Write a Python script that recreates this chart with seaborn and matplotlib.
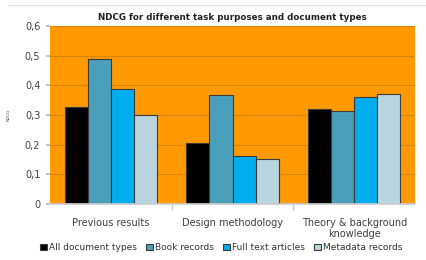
import matplotlib
matplotlib.use("Agg")
import matplotlib.pyplot as plt
import seaborn as sns
import pandas as pd

categories = ['Previous results', 'Design methodology', 'Theory & background\nknowledge']
doc_types = ['All document types', 'Book records', 'Full text articles', 'Metadata records']
all_docs = [0.327, 0.206, 0.320]
book = [0.489, 0.367, 0.313]
full_text = [0.388, 0.162, 0.360]
metadata = [0.300, 0.152, 0.371]
yticks = [0, 0.1, 0.2, 0.3, 0.4, 0.5, 0.6]
ytick_labels = ['0', '0,1', '0,2', '0,3', '0,4', '0,5', '0,6']

colors = ['#000000', '#4a9fba', '#00aeef', '#b8d4df']

rows = []
for name, vals in zip(doc_types, [all_docs, book, full_text, metadata]):
    for cat, v in zip(categories, vals):
        rows.append({'purpose': cat, 'type': name, 'ndcg': v})
df = pd.DataFrame(rows)

sns.set_theme(style="white")
plt.rcParams['font.family'] = ['DejaVu Sans']

fig = plt.figure(figsize=(4.26, 2.6), dpi=100)
ax = fig.add_axes([50 / 426, 56 / 260, 365 / 426, 178 / 260])
ax.set_facecolor('#ff9900')
ax.set_axisbelow(True)

sns.barplot(data=df, x='purpose', y='ndcg', hue='type', palette=colors,
            saturation=1, width=0.76, edgecolor='#3a3a3a', linewidth=0.8, ax=ax)

ax.set_ylim(0, 0.6)
ax.set_yticks(yticks)
ax.set_yticklabels(ytick_labels, fontsize=7, color='#404040')
ax.yaxis.grid(True, color='#d4860c', linewidth=0.8)
ax.tick_params(axis='x', labelsize=7, colors='#404040', length=0, pad=10)
ax.tick_params(axis='y', length=3, color='#bbbbbb', left=True, pad=4)
ax.set_xlabel('')
ax.set_ylabel('NDCG', fontsize=3, color='#404040', labelpad=10)
for s in ['top', 'right']:
    ax.spines[s].set_visible(False)
ax.spines['left'].set_visible(False)
ax.spines['bottom'].set_color('#cccccc')
ax.set_xticks([0.5, 1.5], minor=True)
ax.tick_params(axis='x', which='minor', length=4, color='#cccccc', bottom=True)
ax.set_xlim(-0.5, 2.5)

ax.set_title('NDCG for different task purposes and document types',
             fontsize=6.3, fontweight='bold', color='#222222', pad=4)

ax.legend(loc='upper center', bbox_to_anchor=(0.47, -0.175), ncol=4, frameon=False,
          fontsize=6.5, handlelength=0.7, handleheight=0.7, handletextpad=0.3,
          columnspacing=1.0, labelcolor='#333333')

fig.add_artist(plt.Line2D([8 / 426, 1], [255 / 260, 255 / 260], color='#dddddd', linewidth=0.8))

fig.savefig('out.png', dpi=100)
